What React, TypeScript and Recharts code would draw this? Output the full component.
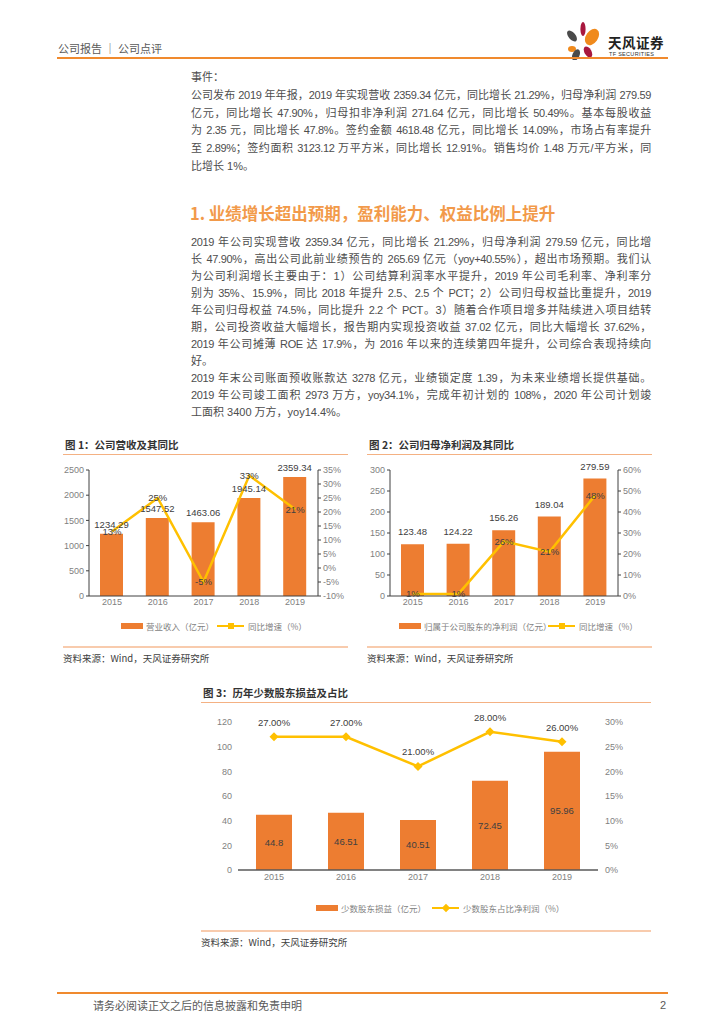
import React from 'react';
import { ComposedChart, Bar, Line, XAxis, YAxis, LabelList } from 'recharts';

// ── Data ────────────────────────────────────────────────────────────────────
const years = ['2015', '2016', '2017', '2018', '2019'];

const revenue = [1234.29, 1547.52, 1463.06, 1945.14, 2359.34];
const revenueYoy = [13, 25, -5, 33, 21];
const revenueTicks = [0, 500, 1000, 1500, 2000, 2500];
const revenueYoyTicks = [-10, -5, 0, 5, 10, 15, 20, 25, 30, 35];

const netProfit = [123.48, 124.22, 156.26, 189.04, 279.59];
const netProfitYoy = [1, 1, 26, 21, 48];
const netProfitTicks = [0, 50, 100, 150, 200, 250, 300];
const netProfitYoyTicks = [0, 10, 20, 30, 40, 50, 60];

const minority = [44.8, 46.51, 40.51, 72.45, 95.96];
const minorityShare = [27, 27, 21, 28, 26];
const minorityTicks = [0, 20, 40, 60, 80, 100, 120];
const minorityShareTicks = [0, 5, 10, 15, 20, 25, 30];

const ORANGE = '#ED7D31';
const GOLD = '#FFC000';
const RULE = '#F08A2E';
const SOFT = '#F4B183';
const CJK = '"Noto Sans CJK SC", sans-serif';
const BODY = '"Liberation Sans Narrow", "Liberation Sans", "Noto Sans CJK SC", sans-serif';
const CHART = '"Liberation Sans", "Noto Sans CJK SC", sans-serif';

const eventLines = [
  '事件：',
  '公司发布 2019 年年报，2019 年实现营收 2359.34 亿元，同比增长 21.29%，归母净利润 279.59',
  '亿元，同比增长 47.90%，归母扣非净利润 271.64 亿元，同比增长 50.49%。基本每股收益',
  '为 2.35 元，同比增长 47.8%。签约金额 4618.48 亿元，同比增长 14.09%，市场占有率提升',
  '至 2.89%；签约面积 3123.12 万平方米，同比增长 12.91%。销售均价 1.48 万元/平方米，同',
  '比增长 1%。',
];
const eventJustify = [false, true, true, true, true, false];

const sectionLines = [
  '2019 年公司实现营收 2359.34 亿元，同比增长 21.29%，归母净利润 279.59 亿元，同比增',
  '长 47.90%，高出公司此前业绩预告的 265.69 亿元（yoy+40.55%），超出市场预期。我们认',
  '为公司利润增长主要由于：1）公司结算利润率水平提升，2019 年公司毛利率、净利率分',
  '别为 35%、15.9%，同比 2018 年提升 2.5、2.5 个 PCT；2）公司归母权益比重提升，2019',
  '年公司归母权益 74.5%，同比提升 2.2 个 PCT。3）随着合作项目增多并陆续进入项目结转',
  '期，公司投资收益大幅增长，报告期内实现投资收益 37.02 亿元，同比大幅增长 37.62%，',
  '2019 年公司摊薄 ROE 达 17.9%，为 2016 年以来的连续第四年提升，公司综合表现持续向',
  '好。',
  '2019 年末公司账面预收账款达 3278 亿元，业绩锁定度 1.39，为未来业绩增长提供基础。',
  '2019 年公司竣工面积 2973 万方，yoy34.1%，完成年初计划的 108%，2020 年公司计划竣',
  '工面积 3400 万方，yoy14.4%。',
];
const sectionJustify = [true, true, true, true, true, true, true, false, true, true, false];

// ── Small helpers ───────────────────────────────────────────────────────────
const abs = (left: number, top: number, extra: React.CSSProperties = {}): React.CSSProperties => ({
  position: 'absolute',
  left,
  top,
  ...extra,
});

function TextBlock({ lines, justify, top, step }: { lines: string[]; justify: boolean[]; top: number; step: number }) {
  return (
    <>
      {lines.map((t, i) => (
        <div
          key={i}
          style={abs(191, top + i * step - 7, {
            width: 460,
            fontSize: 11,
            lineHeight: '14px',
            color: '#4d4d4d',
            fontFamily: BODY,
            whiteSpace: 'nowrap',
            letterSpacing: justify[i] ? -0.35 : 0,
            textAlign: 'justify',
            textAlignLast: justify[i] ? 'justify' : 'left',
          })}
        >
          {t}
        </div>
      ))}
    </>
  );
}

// label renderer that works off the viewBox Recharts hands to LabelList
const makeLabel =
  (mode: 'top' | 'center' | 'above', fmt: (v: any) => string, lift = 5) =>
  (p: any) => {
    const vb = p.viewBox || {};
    const x0 = vb.x ?? p.x ?? 0;
    const y0 = vb.y ?? p.y ?? 0;
    const w = vb.width ?? 0;
    const h = vb.height ?? 0;
    const cx = x0 + w / 2;
    let cy = y0 + h / 2 + 3.3;
    if (mode === 'top' || mode === 'above') cy = y0 - lift;
    return (
      <text key={p.index} x={cx} y={cy} textAnchor="middle" fontSize={9.5} fill="#404040" fontFamily={CHART}>
        {fmt(p.value)}
      </text>
    );
  };

const Diamond = (p: any) => {
  if (p.cx == null || p.cy == null) return null;
  const r = 4.5;
  return (
    <path
      key={p.index}
      d={`M${p.cx},${p.cy - r} L${p.cx + r},${p.cy} L${p.cx},${p.cy + r} L${p.cx - r},${p.cy} Z`}
      fill={GOLD}
    />
  );
};

const tickStyle = { fontSize: 9, fill: '#7f7f7f', fontFamily: CHART };

function ChartFrame({ x, w, top, title, bottom }: { x: number; w: number; top: number; title: string; bottom: number }) {
  return (
    <>
      <div style={abs(x + 2, top - 8, { fontSize: 10.5, lineHeight: '16px', fontWeight: 700, color: '#333', fontFamily: CJK })}>
        {title}
      </div>
      <div style={abs(x, top + 9, { width: w, height: 1, background: SOFT })} />
      <div style={abs(x, bottom, { width: w, height: 1.5, background: '#F8CBAD' })} />
      <div style={abs(x, bottom + 5, { fontSize: 9.5, lineHeight: '14px', color: '#404040', fontFamily: CJK })}>
        资料来源：Wind，天风证券研究所
      </div>
    </>
  );
}

function LegendRow({ x1, label1, x2, label2, y, diamond }: { x1: number; label1: string; x2: number; label2: string; y: number; diamond?: boolean }) {
  const txt: React.CSSProperties = { fontSize: 8.5, lineHeight: '12px', color: '#7f7f7f', fontFamily: CJK, whiteSpace: 'nowrap' };
  return (
    <>
      <div style={abs(x1, y - 3, { width: 22, height: 6, background: ORANGE })} />
      <div style={abs(x1 + 25, y - 6, txt)}>{label1}</div>
      <div style={abs(x2, y - 1.25, { width: 27, height: 2.5, background: GOLD })} />
      <div
        style={abs(x2 + 10.5, y - 3, {
          width: 6,
          height: 6,
          background: GOLD,
          transform: diamond ? 'rotate(45deg)' : undefined,
        })}
      />
      <div style={abs(x2 + 31, y - 6, txt)}>{label2}</div>
    </>
  );
}

// ── Figure 1 ────────────────────────────────────────────────────────────────
function RevenueChart() {
  const data = years.map((y, i) => ({ year: y, v: revenue[i], yoy: revenueYoy[i] }));
  return (
    <div style={abs(40, 452)}>
      <ComposedChart width={320} height={164} data={data} margin={{ top: 18, right: 0, bottom: 0, left: 0 }}>
        <XAxis dataKey="year" tickLine={false} tickSize={0} tickMargin={3} height={20} axisLine={{ stroke: '#404040' }} tick={tickStyle} />
        <YAxis
          yAxisId="l"
          width={49}
          domain={[0, 2500]}
          ticks={revenueTicks}
          interval={0}
          tick={tickStyle}
          tickSize={3}
          axisLine={{ stroke: '#404040' }}
          tickLine={{ stroke: '#404040' }}
        />
        <YAxis
          yAxisId="r"
          orientation="right"
          width={42}
          domain={[-10, 35]}
          ticks={revenueYoyTicks}
          interval={0}
          tickFormatter={(v) => `${v}%`}
          tick={tickStyle}
          tickSize={3}
          axisLine={{ stroke: '#404040' }}
          tickLine={{ stroke: '#404040' }}
        />
        <Bar yAxisId="l" dataKey="v" fill={ORANGE} barSize={23} isAnimationActive={false}>
          <LabelList dataKey="v" content={makeLabel('top', (v) => Number(v).toFixed(2), 6)} />
        </Bar>
        <Line yAxisId="r" dataKey="yoy" stroke={GOLD} strokeWidth={2.5} dot={false} isAnimationActive={false}>
          <LabelList dataKey="yoy" content={makeLabel('center', (v) => `${v}%`)} />
        </Line>
      </ComposedChart>
    </div>
  );
}

// ── Figure 2 ────────────────────────────────────────────────────────────────
function ProfitChart() {
  const data = years.map((y, i) => ({ year: y, v: netProfit[i], yoy: netProfitYoy[i] }));
  return (
    <div style={abs(350, 452)}>
      <ComposedChart width={310} height={164} data={data} margin={{ top: 18, right: 0, bottom: 0, left: 0 }}>
        <XAxis dataKey="year" tickLine={false} tickSize={0} tickMargin={3} height={20} axisLine={{ stroke: '#404040' }} tick={tickStyle} />
        <YAxis
          yAxisId="l"
          width={40}
          domain={[0, 300]}
          ticks={netProfitTicks}
          interval={0}
          tick={tickStyle}
          tickSize={3}
          axisLine={{ stroke: '#404040' }}
          tickLine={{ stroke: '#404040' }}
        />
        <YAxis
          yAxisId="r"
          orientation="right"
          width={42}
          domain={[0, 60]}
          ticks={netProfitYoyTicks}
          interval={0}
          tickFormatter={(v) => `${v}%`}
          tick={tickStyle}
          tickSize={3}
          axisLine={{ stroke: '#404040' }}
          tickLine={{ stroke: '#404040' }}
        />
        <Bar yAxisId="l" dataKey="v" fill={ORANGE} barSize={23} isAnimationActive={false}>
          <LabelList dataKey="v" content={makeLabel('top', (v) => Number(v).toFixed(2), 9)} />
        </Bar>
        <Line yAxisId="r" dataKey="yoy" stroke={GOLD} strokeWidth={2.5} dot={false} isAnimationActive={false}>
          <LabelList dataKey="yoy" content={makeLabel('center', (v) => `${v}%`)} />
        </Line>
      </ComposedChart>
    </div>
  );
}

// ── Figure 3 ────────────────────────────────────────────────────────────────
function MinorityChart() {
  const data = years.map((y, i) => ({ year: y, v: minority[i], share: minorityShare[i] }));
  return (
    <div style={abs(208, 704)}>
      <ComposedChart width={430} height={188} data={data} margin={{ top: 18, right: 0, bottom: 0, left: 0 }}>
        <XAxis
          dataKey="year"
          tickLine={false}
          tickSize={0}
          tickMargin={4}
          height={22}
          axisLine={{ stroke: '#595959', strokeWidth: 1.5 }}
          tick={tickStyle}
        />
        <YAxis
          yAxisId="l"
          width={30}
          domain={[0, 120]}
          ticks={minorityTicks}
          interval={0}
          tick={tickStyle}
          tickSize={0}
          tickMargin={6}
          axisLine={false}
          tickLine={false}
        />
        <YAxis
          yAxisId="r"
          orientation="right"
          width={40}
          domain={[0, 30]}
          ticks={minorityShareTicks}
          interval={0}
          tickFormatter={(v) => `${v}%`}
          tick={tickStyle}
          tickSize={0}
          tickMargin={7}
          axisLine={false}
          tickLine={false}
        />
        <Bar yAxisId="l" dataKey="v" fill={ORANGE} barSize={36} isAnimationActive={false}>
          <LabelList dataKey="v" content={makeLabel('center', (v) => String(v))} />
        </Bar>
        <Line yAxisId="r" dataKey="share" stroke={GOLD} strokeWidth={2.5} dot={Diamond} isAnimationActive={false}>
          <LabelList dataKey="share" content={makeLabel('above', (v) => `${Number(v).toFixed(2)}%`, 11)} />
        </Line>
      </ComposedChart>
    </div>
  );
}

function Logo() {
  return (
    <>
      <svg width={40} height={40} style={abs(563, 20)}>
        <ellipse cx={20} cy={9} rx={2.6} ry={7} fill="#A8173E" />
        <ellipse cx={9} cy={16} rx={3.5} ry={6.5} fill="#4A4A4A" transform="rotate(-40 9 16)" />
        <ellipse cx={29} cy={17} rx={6} ry={9} fill="#F08A1C" transform="rotate(35 29 17)" />
        <ellipse cx={9} cy={29} rx={4} ry={3} fill="#F08A1C" />
        <ellipse cx={25} cy={32} rx={3.5} ry={6} fill="#A8173E" transform="rotate(-30 25 32)" />
        <ellipse cx={13} cy={35} rx={3.5} ry={6} fill="#4A4A4A" transform="rotate(25 13 35)" />
      </svg>
      <div style={abs(608, 34, { fontSize: 13.5, lineHeight: '16px', fontWeight: 700, color: '#222', fontFamily: CJK, letterSpacing: 0.5 })}>
        天风证券
      </div>
      <div style={abs(609, 51, { fontSize: 5.5, lineHeight: '7px', color: '#333', fontFamily: CHART, letterSpacing: 0.3 })}>
        TF SECURITIES
      </div>
    </>
  );
}

export default function App() {
  return (
    <div style={{ position: 'absolute', left: 0, top: 0, width: 724, height: 1024, background: '#fff', overflow: 'hidden' }}>
      {/* header */}
      <div style={abs(58, 41, { fontSize: 11, lineHeight: '14px', color: '#595959', fontFamily: CJK })}>公司报告 ｜ 公司点评</div>
      <Logo />
      <div style={abs(57, 57, { width: 611, height: 2, background: RULE })} />

      <TextBlock lines={eventLines} justify={eventJustify} top={77} step={17.8} />

      <div style={abs(190, 203, { fontSize: 16.5, lineHeight: '20px', color: '#F29A4A', fontFamily: CJK, fontWeight: 700 })}>
        1. 业绩增长超出预期，盈利能力、权益比例上提升
      </div>

      <TextBlock lines={sectionLines} justify={sectionJustify} top={242} step={17} />

      <ChartFrame x={63} w={285} top={445} title="图 1：公司营收及其同比" bottom={646} />
      <RevenueChart />
      <LegendRow x1={121} label1="营业收入（亿元）" x2={217} label2="同比增速（%）" y={626} />

      <ChartFrame x={367} w={285} top={445} title="图 2：公司归母净利润及其同比" bottom={646} />
      <ProfitChart />
      <LegendRow x1={399} label1="归属于公司股东的净利润（亿元）" x2={548} label2="同比增速（%）" y={626} />

      <ChartFrame x={201} w={450} top={693} title="图 3：历年少数股东损益及占比" bottom={930} />
      <MinorityChart />
      <LegendRow x1={316} label1="少数股东损益（亿元）" x2={432} label2="少数股东占比净利润（%）" y={908} diamond />

      {/* footer */}
      <div style={abs(57, 992, { width: 611, height: 2, background: RULE })} />
      <div style={abs(93, 998, { fontSize: 11, lineHeight: '14px', color: '#595959', fontFamily: CJK })}>
        请务必阅读正文之后的信息披露和免责申明
      </div>
      <div style={abs(660, 998, { fontSize: 11, lineHeight: '14px', color: '#595959', fontFamily: CHART })}>2</div>
    </div>
  );
}
